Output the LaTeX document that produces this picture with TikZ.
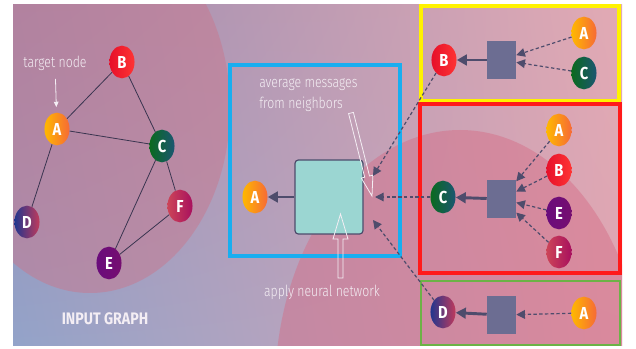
\documentclass[tikz,border=0pt]{standalone}
\usepackage{fontspec}
\setsansfont{Fira Sans}[FakeStretch=0.85]
\newfontfamily\thinfont{Fira Sans Light}[FakeStretch=0.8]
\usetikzlibrary{shapes.geometric,arrows.meta,shadings}

\definecolor{bgUL}{HTML}{9B8DB2}
\definecolor{bgUR}{HTML}{E2AAB4}
\definecolor{bgLL}{HTML}{93A3C9}
\definecolor{bgLR}{HTML}{DEA4B2}
\definecolor{lobeL}{HTML}{C8788E}
\definecolor{lobeR}{HTML}{D66A84}
\definecolor{frameBlue}{HTML}{18AEF0}
\definecolor{frameYellow}{HTML}{FFF200}
\definecolor{frameRed}{HTML}{FF1A1A}
\definecolor{frameGreen}{HTML}{6CB246}
\definecolor{slate}{HTML}{6C6D92}
\definecolor{ink}{HTML}{4E4C6C}
\definecolor{edgeInk}{HTML}{3A3550}
\definecolor{netFill}{HTML}{9BD6D2}
\definecolor{aL}{HTML}{FFB800}\definecolor{aR}{HTML}{F66A36}
\definecolor{bL}{HTML}{E6102A}\definecolor{bR}{HTML}{FF3434}
\definecolor{cL}{HTML}{0A6A1E}\definecolor{cR}{HTML}{1C5672}
\definecolor{dL}{HTML}{22368E}\definecolor{dR}{HTML}{C03A5C}
\definecolor{eL}{HTML}{6A0C7C}\definecolor{eR}{HTML}{760E70}
\definecolor{fL}{HTML}{CC4458}\definecolor{fR}{HTML}{A8105E}
\definecolor{paleText}{HTML}{F4EEF4}

\tikzset{
  vtx/.style={ellipse, minimum width=18.8pt, minimum height=24.5pt, inner sep=0pt,
    text=white, font=\sffamily\bfseries\fontsize{13}{13}\selectfont},
  vA/.style={vtx, left color=aL, right color=aR},
  vB/.style={vtx, left color=bL, right color=bR},
  vC/.style={vtx, left color=cL, right color=cR},
  vD/.style={vtx, left color=dL, right color=dR},
  vE/.style={vtx, left color=eL, right color=eR},
  vF/.style={vtx, left color=fL, right color=fR},
  sq/.style={fill=slate, minimum width=21.75pt, minimum height=28.5pt, inner sep=0pt},
  agg/.style={ink, line width=2.2pt, -{Triangle[length=7.5pt,width=8pt]}},
  msg/.style={ink, line width=0.9pt, dash pattern=on 2.5pt off 1.8pt,
    -{Triangle[length=6.5pt,width=6.5pt]}},
  note/.style={text=paleText, font=\thinfont\fontsize{11.5}{15.5}\selectfont}
}

\begin{document}
\begin{tikzpicture}[x=0.75pt,y=-0.75pt]
\useasboundingbox (0,0) rectangle (636,349);

% backdrop and the two soft lobes
\shade[upper left=bgUL, upper right=bgUR, lower left=bgLL, lower right=bgLR]
  (13,5) rectangle (622,345);
\begin{scope}
  \clip (13,5) rectangle (622,345);
  \fill[lobeL, fill opacity=0.5] (90,108) ellipse [x radius=140, y radius=185];
  \fill[lobeR, fill opacity=0.45] (460,390) ellipse [x radius=185, y radius=260];
\end{scope}

% input graph
\node[vB] (gB) at (122,62) {B};
\node[vA] (gA) at (57,129) {A};
\node[vC] (gC) at (162,146) {C};
\node[vD] (gD) at (27,222) {D};
\node[vF] (gF) at (180,206) {F};
\node[vE] (gE) at (109,263) {E};
\draw[edgeInk, line width=0.6pt] (gA) -- (gB) (gB) -- (gC) (gA) -- (gC)
  (gA) -- (gD) (gC) -- (gE) (gC) -- (gF) (gF) -- (gE);

\node[note] (tgt) at (55,63) {target node};
\draw[paleText, line width=0.6pt, -{Triangle[length=4pt,width=3.5pt]},
  shorten <=3pt, shorten >=4pt] (tgt) -- (gA);
\node[text=paleText, font=\sffamily\bfseries\fontsize{12.5}{12.5}\selectfont]
  (title) at (105,319) {INPUT GRAPH};

% aggregation step for A
\draw[frameBlue, line width=2.6pt] (230,65) rectangle (400,256);
\node[fill=netFill, draw=ink, line width=0.9pt, rounded corners=2.5pt,
  minimum width=51pt, minimum height=55.5pt] (net) at (329,197) {};
\node[vA] (outA) at (255,197) {A};
\draw[agg] (net) -- (outA);
\coordinate (inB) at (373,176);
\coordinate (inC) at (375,197);
\coordinate (inD) at (373,220);

\node[note, anchor=west, align=left, inner sep=0pt] (avg) at (259,95)
  {average messages\\from neighbors};
\draw[paleText, line width=0.6pt] (353.4,112.4) -- (369.5,176.0) -- (372.9,175.1)
  -- (372,196) -- (361.3,178.1) -- (364.7,177.2) -- (348.6,113.6) -- cycle;
\node[note] (apply) at (322,292) {apply neural network};
\draw[paleText, line width=0.6pt] (338,278) -- (338,239) -- (333,239) -- (340.5,214)
  -- (348,239) -- (343,239) -- (343,278) -- cycle;

% neighbour messages for B
\draw[frameYellow, line width=2.6pt] (421,6) rectangle (619,101);
\node[sq] (sqB) at (501.5,60) {};
\node[vB] (yB) at (444,60) {B};
\node[vA] (yA) at (584,33) {A};
\node[vC] (yC) at (584,73) {C};
\draw[agg] (sqB) -- (yB);
\draw[msg] (yA) -- (sqB);
\draw[msg] (yC) -- (sqB);

% neighbour messages for C
\draw[frameRed, line width=2.6pt] (420,104) rectangle (620,273);
\node[sq] (sqC) at (501.5,199) {};
\node[vC] (rC) at (443,197) {C};
\node[vA] (rA) at (559,130) {A};
\node[vB] (rB) at (559,170) {B};
\node[vE] (rE) at (559,213) {E};
\node[vF] (rF) at (559,252) {F};
\draw[agg] (sqC) -- (rC);
\foreach \n in {rA,rB,rE,rF}
  \draw[msg] (\n) -- (sqC);

% neighbour messages for D
\draw[frameGreen, line width=2pt] (421,281) rectangle (620,345);
\node[sq] (sqD) at (501.5,315) {};
\node[vD] (tD) at (443,312) {D};
\node[vA] (tA) at (584,313) {A};
\draw[agg] (sqD) -- (tD);
\draw[msg] (tA) -- (sqD);

% messages passed up to A
\draw[msg] (yB) -- (inB);
\draw[msg] (rC) -- (inC);
\draw[msg] (tD) -- (inD);
\end{tikzpicture}
\end{document}
